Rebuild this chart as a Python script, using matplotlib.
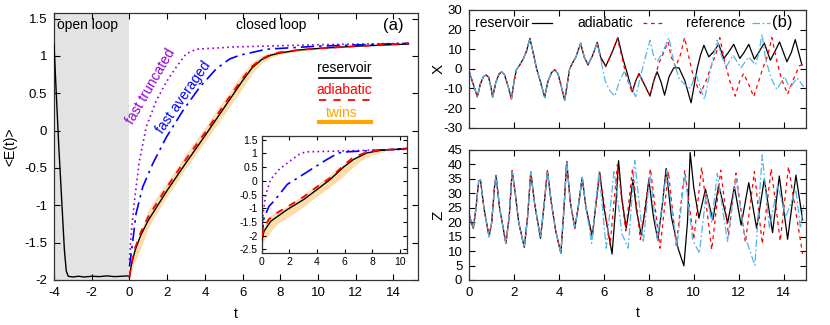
import numpy as np
import matplotlib.pyplot as plt
from matplotlib.ticker import FormatStrFormatter

plt.rcParams['font.family'] = ['Liberation Sans', 'DejaVu Sans']
plt.rcParams['axes.unicode_minus'] = False
plt.rcParams['font.size'] = 10

# ---------------- panel (a) data ----------------
# reservoir (open loop t<0, then closed loop)
t_res = [-4.0, -3.9, -3.75, -3.6, -3.45, -3.35, -3.25, -3.0, -2.7, -2.4, -2.0, -1.6,
         -1.2, -0.8, -0.4, -0.1, 0.0, 0.1, 0.3, 0.6, 1.0, 1.5, 2.0, 3.0, 4.0, 5.0,
         6.0, 6.5, 7.0, 7.5, 8.0, 9.0, 10.0, 12.0, 14.8]
E_res = [1.15, 0.6, -0.2, -0.9, -1.6, -1.88, -1.95, -1.96, -1.95, -1.96, -1.95, -1.955,
         -1.945, -1.955, -1.95, -1.945, -1.96, -1.8, -1.6, -1.4, -1.2, -1.0, -0.8, -0.43,
         -0.07, 0.3, 0.67, 0.84, 0.95, 1.01, 1.04, 1.08, 1.1, 1.13, 1.16]

t_adi = [0.0, 0.1, 0.3, 0.6, 1.0, 1.5, 2.0, 3.0, 4.0, 5.0, 6.0, 6.5, 7.0, 7.5, 8.0,
         9.0, 10.0, 12.0, 14.8]
E_adi = [-1.96, -1.78, -1.57, -1.36, -1.15, -0.95, -0.75, -0.38, -0.03, 0.34, 0.7,
         0.86, 0.96, 1.02, 1.05, 1.08, 1.1, 1.13, 1.17]

t_tw = [0.0, 0.25, 0.5, 1.0, 1.5, 2.0, 3.0, 4.0, 5.0, 6.0, 6.5, 7.0, 7.5, 8.0, 9.0, 10.0]
tw_lo = [-1.97, -1.78, -1.64, -1.3, -1.08, -0.88, -0.5, -0.15, 0.21, 0.57, 0.77, 0.9,
         0.98, 1.02, 1.07, 1.09]
tw_hi = [-1.92, -1.6, -1.42, -1.06, -0.87, -0.69, -0.31, 0.04, 0.41, 0.77, 0.92, 1.0,
         1.05, 1.07, 1.1, 1.11]

t_trunc = [0.0, 0.09, 0.27, 0.53, 0.89, 1.42, 1.95, 2.48, 3.01, 3.55, 5.5, 9.9, 14.8]
E_trunc = [-1.73, -1.38, -0.93, -0.4, 0.05, 0.4, 0.65, 0.85, 1.03, 1.09, 1.12, 1.15, 1.17]

t_avg = [0.0, 0.18, 0.35, 0.71, 1.24, 1.95, 2.84, 3.72, 4.61, 5.32, 5.85, 7.27, 9.93, 14.8]
E_avg = [-1.82, -1.47, -1.11, -0.75, -0.44, -0.09, 0.27, 0.58, 0.83, 0.96, 1.01, 1.09,
         1.13, 1.17]

# inset
ti_res = [0.0, 0.17, 0.65, 1.85, 3.05, 4.0, 4.96, 5.92, 6.64, 7.6, 8.56, 10.5]
Ei_res = [-2.2, -1.84, -1.48, -1.05, -0.68, -0.32, 0.05, 0.5, 0.78, 1.02, 1.11, 1.18]
ti_adi = [0.0, 0.2, 0.5, 1.0, 1.85, 3.0, 4.0, 5.0, 5.9, 6.6, 7.6, 8.5, 10.5]
Ei_adi = [-2.05, -1.7, -1.42, -1.2, -0.95, -0.6, -0.22, 0.12, 0.55, 0.85, 1.05, 1.12, 1.18]
ti_tw = [0.0, 0.2, 0.4, 0.8, 1.2, 1.85, 3.0, 4.0, 5.0, 5.9, 7.1, 8.0, 9.0]
twi_lo = [-2.35, -2.15, -2.05, -1.75, -1.55, -1.35, -0.95, -0.56, -0.2, 0.17, 0.72,
          0.95, 1.08]
twi_hi = [-2.0, -1.6, -1.35, -1.2, -1.08, -0.93, -0.5, -0.13, 0.25, 0.6, 0.95, 1.06, 1.12]
ti_trunc = [0.0, 0.1, 0.29, 0.65, 1.25, 1.97, 2.69, 3.17, 4.0, 10.5]
Ei_trunc = [-2.4, -1.2, -0.5, 0.05, 0.41, 0.7, 0.96, 1.06, 1.07, 1.15]
ti_avg = [0.0, 0.17, 0.53, 0.89, 1.37, 1.85, 2.81, 3.77, 4.72, 5.56, 6.16, 10.5]
Ei_avg = [-2.09, -1.35, -0.93, -0.74, -0.44, -0.13, 0.17, 0.48, 0.78, 1.02, 1.06, 1.18]

# ---------------- panel (b) data ----------------
tx_common = [0, 0.18, 0.36, 0.5, 0.62, 0.74, 0.86, 0.96, 1.04, 1.18, 1.32, 1.44, 1.56,
             1.72, 1.88, 2.0, 2.1, 2.25, 2.4, 2.55, 2.7, 2.85, 3.0, 3.18, 3.36, 3.5,
             3.67, 3.81, 3.95, 4.1, 4.25, 4.36, 4.47, 4.6, 4.75, 4.96, 5.12, 5.29,
             5.5, 5.7]
x_common = [-1.5, -8, -14.2, -7.5, -4.2, -3.1, -4.2, -9, -14.5, -7, -2.8, -1.5, -2.8,
            -8.5, -15.4, -6, -0.5, 2, 5, 9, 15.5, 8, 0, -7, -14.5, -6.5, -1.8, -0.5,
            -2.5, -9, -16, -8, 0, 3, 6, 13, 6, 2, 7, 13.5]

tx_res = [5.85, 6.08, 6.35, 6.62, 6.85, 7.04, 7.26, 7.42, 7.56, 7.8, 8.05, 8.22, 8.37,
          8.55, 8.7, 8.9, 9.11, 9.34, 9.6, 9.88, 10.15, 10.3, 10.45, 10.67, 10.9, 11.11,
          11.34, 11.55, 11.78, 12.05, 12.25, 12.45, 12.7, 12.9, 13.14, 13.41, 13.6,
          13.82, 14.15, 14.35, 14.52, 14.82]
x_res = [6, 1.4, 8, 15.9, 5, -2.4, -11.7, -6, -2.4, -8, -13.9, -6, -1.5, -7, -13.4, -4,
         0.5, 0.5, -6, -17.3, 0, 7, 12, 6.1, 9, 12.5, 5.3, 8.5, 12.5, 5.3, 8.5, 12.5,
         4.9, 8.5, 13.2, 4.4, 8.5, 13.7, 3.6, 8.5, 14.9, 1.9]

tx_adi = [5.85, 6.08, 6.3, 6.6, 6.8, 7.0, 7.26, 7.42, 7.56, 7.8, 8.05, 8.25, 8.45, 8.65,
          8.85, 9.0, 9.19, 9.4, 9.59, 9.8, 10.0, 10.3, 10.55, 10.8, 11.0, 11.16, 11.35,
          11.6, 11.85, 12.05, 12.22, 12.45, 12.67, 12.9, 13.1, 13.3, 13.48, 13.7, 13.9,
          14.18, 14.45, 14.7, 14.9]
x_adi = [5, 1, 7, 15.4, 6, -4, -12.2, -6, -3, -8, -13.4, -5, 3, 8, 13.7, 6, 1, 7, 15.9,
         5, -5, -12.5, -6, 2, 8, 15.9, 5, -6, -13.9, -6, -2.4, -8, -14.2, -6, 1, 7,
         15.9, 4, -5, -12.9, -5, 1.5, 2.5]

tx_ref = [5.85, 6.05, 6.25, 6.48, 6.7, 6.9, 7.15, 7.41, 7.6, 7.8, 8.05, 8.2, 8.37, 8.6,
          8.89, 9.1, 9.35, 9.6, 9.85, 10.1, 10.3, 10.48, 10.7, 10.85, 11.04, 11.25,
          11.45, 11.75, 12.1, 12.45, 12.75, 12.9, 13.04, 13.2, 13.45, 13.7, 14.05,
          14.27, 14.6, 14.9]
x_ref = [5, -6, -11, -13.9, -6, -1.5, -8, -14.2, -5, 4, 14.6, 7, 3.6, 8, 15.9, 4, -5,
         -8, -10, -2.4, -10, -15.6, -3, 5, 14.6, 6, 1, 7, 0.5, 6, 2, 8, 17.6, 5, -5,
         -10.5, -4, -10, -4.6, -9.2]

tz_common = [0, 0.18, 0.3, 0.42, 0.5, 0.65, 0.88, 1.0, 1.12, 1.19, 1.35, 1.63, 1.78,
             1.91, 2.05, 2.2, 2.45, 2.6, 2.74, 2.9, 3.17, 3.32, 3.48, 3.65, 3.85, 4.08,
             4.22, 4.34, 4.5, 4.7, 4.85, 5.03, 5.2]
z_common = [22.5, 17.9, 25, 34.3, 34.6, 25, 15, 20, 32, 36.2, 25, 12.7, 22, 37.8, 30,
            20, 11.3, 22, 37.5, 27, 14.4, 25, 37.8, 27, 17, 9.2, 25, 41, 27, 17.9, 25,
            35.5, 25]

tz_res = [5.48, 5.65, 5.81, 6.0, 6.36, 6.52, 6.65, 6.8, 6.99, 7.15, 7.29, 7.45, 7.66,
          7.85, 8.0, 8.2, 8.4, 8.6, 8.77, 9.0, 9.3, 9.56, 9.72, 9.84, 10.0, 10.23,
          10.52, 10.85, 11.11, 11.51, 11.81, 12.11, 12.45, 12.8, 13.14, 13.51, 13.81,
          14.18, 14.55, 14.85]
z_res = [15, 27, 37.3, 25, 9.0, 25, 41.3, 28, 17.9, 26, 34.8, 24, 15.6, 25, 34.8, 22,
         13.8, 26, 38.6, 22, 11, 4.9, 20, 44.1, 32, 21.4, 31.4, 20.8, 32.9, 19.8, 32.3,
         19, 33.7, 17.9, 34.8, 16.4, 36, 14.1, 36.3, 20.8]

tz_adi = [5.48, 5.81, 6.27, 6.6, 6.97, 7.27, 7.62, 8.07, 8.5, 8.87, 9.22, 9.6, 10.0,
          10.35, 10.8, 11.2, 11.55, 11.88, 12.3, 12.7, 13.05, 13.45, 13.85, 14.22, 14.85]
z_adi = [15, 37.3, 12, 40, 17, 38.5, 14, 38.5, 11, 37.5, 12, 38, 14, 39, 10.5, 38,
         15.5, 37, 13, 37.5, 12.5, 38.5, 13.5, 39.2, 9]

tz_ref = [5.45, 5.78, 6.1, 6.45, 6.8, 7.08, 7.37, 7.75, 8.05, 8.38, 8.8, 9.25, 9.6,
          9.95, 10.25, 10.55, 10.8, 11.05, 11.5, 11.88, 12.25, 12.72, 13.05, 13.37,
          13.74, 14.1, 14.55, 14.75, 14.9]
z_ref = [12.7, 37.5, 11, 38, 16, 11, 41.3, 13, 37, 14, 38, 11.5, 37, 14, 9.2, 30, 20,
         36.9, 13.3, 35.2, 16, 5, 43.3, 17.9, 32.9, 21.9, 31.2, 18, 26]

sky = '#56b4e9'
purple = '#9400d3'
band = '#fddcaa'


def style(ax, size=9.5, pad=5):
    ax.tick_params(direction='in', top=True, right=True, length=4, width=0.8,
                   labelsize=size, pad=pad)
    for s in ax.spines.values():
        s.set_linewidth(0.9)
        s.set_color('#333333')


fig = plt.figure(figsize=(8.3, 3.25), dpi=100)

# ---------- (a) ----------
ax = fig.add_axes([0.0651, 0.1385, 0.4385, 0.8215])
ax.axvspan(-4, 0, color='#e3e3e3', lw=0, zorder=0)
ax.fill_between(t_tw, tw_lo, tw_hi, color=band, lw=0, zorder=1)
ax.plot(t_trunc, E_trunc, color=purple, lw=1.2, ls=(0, (1, 2)), zorder=2)
ax.plot(t_avg, E_avg, color='blue', lw=1.2, ls=(0, (8, 3, 1.5, 3)), zorder=2)
ax.plot(t_res, E_res, color='k', lw=1.0, zorder=3)
ax.plot(t_adi, E_adi, color='red', lw=1.3, ls=(0, (4, 4)), zorder=4)
ax.set_xlim(-4, 15.3)
ax.set_ylim(-2, 1.575)
ax.set_xticks(np.arange(-4, 15, 2))
ax.set_yticks(np.arange(-2, 1.51, 0.5))
ax.yaxis.set_major_formatter(FormatStrFormatter('%g'))
style(ax)
ax.set_xlabel('t', fontsize=10)
ax.xaxis.set_label_coords(0.5, -0.1)
ax.set_ylabel('<E(t)>', fontsize=10)
ax.yaxis.set_label_coords(-0.1, 0.5)

ax.text(0.093, 0.955, 'open loop', transform=ax.transAxes, ha='center', va='center')
ax.text(0.598, 0.955, 'closed loop', transform=ax.transAxes, ha='center', va='center')
ax.text(0.932, 0.955, '(a)', transform=ax.transAxes, ha='center', va='center', fontsize=12)
ax.text(1.15, 0.59, 'fast truncated', color=purple, rotation=60, ha='center',
        va='center', rotation_mode='anchor')
ax.text(2.87, 0.45, 'fast averaged', color='blue', rotation=55, ha='center',
        va='center', rotation_mode='anchor')

# legend drawn gnuplot-like: label above the sample line
ax.text(0.797, 0.795, 'reservoir', transform=ax.transAxes, ha='center', va='center')
ax.plot([0.728, 0.871], [0.757, 0.757], transform=ax.transAxes, color='k', lw=1.2)
ax.text(0.797, 0.71, 'adiabatic', transform=ax.transAxes, ha='center', va='center',
        color='red')
ax.plot([0.728, 0.871], [0.674, 0.674], transform=ax.transAxes, color='red', lw=1.3,
        ls=(0, (4, 4)))
ax.text(0.79, 0.627, 'twins', transform=ax.transAxes, ha='center', va='center',
        color='orange')
ax.plot([0.728, 0.871], [0.59, 0.59], transform=ax.transAxes, color='orange', lw=3)

# inset
axi = fig.add_axes([0.3153, 0.2206, 0.1747, 0.3618])
axi.fill_between(ti_tw, twi_lo, twi_hi, color=band, lw=0, zorder=1)
axi.plot(ti_trunc, Ei_trunc, color=purple, lw=1.2, ls=(0, (1, 2)), zorder=2)
axi.plot(ti_avg, Ei_avg, color='blue', lw=1.2, ls=(0, (8, 3, 1.5, 3)), zorder=2)
axi.plot(ti_res, Ei_res, color='k', lw=1.0, zorder=3)
axi.plot(ti_adi, Ei_adi, color='red', lw=1.3, ls=(0, (4, 4)), zorder=4)
axi.set_xlim(0, 10.5)
axi.set_ylim(-2.65, 1.65)
axi.set_xticks(np.arange(0, 11, 2))
axi.set_yticks(np.arange(-2.5, 1.51, 0.5))
axi.yaxis.set_major_formatter(FormatStrFormatter('%g'))
style(axi, size=7.5, pad=3)
axi.tick_params(length=3)

# ---------- (b) X ----------
axx = fig.add_axes([0.5654, 0.6071, 0.4057, 0.3622])
axx.plot(tx_common + tx_res, x_common + x_res, color='k', lw=0.9)
axx.plot(tx_common + tx_adi, x_common + x_adi, color='red', lw=0.9, ls=(0, (3, 3)))
axx.plot(tx_common + tx_ref, x_common + x_ref, color=sky, lw=0.9,
         ls=(0, (6, 2, 1.5, 2)))
axx.set_xlim(0, 15)
axx.set_ylim(-30, 30)
axx.set_xticks(np.arange(0, 15, 2))
axx.set_xticklabels([])
axx.set_yticks(np.arange(-30, 31, 10))
style(axx)
axx.set_ylabel('X', fontsize=11)
axx.yaxis.set_label_coords(-0.07, 0.5)

ly = 0.89
axx.text(0.18, ly, 'reservoir', transform=axx.transAxes, ha='right', va='center')
axx.plot([0.186, 0.245], [ly, ly], transform=axx.transAxes, color='k', lw=0.9)
axx.text(0.487, ly, 'adiabatic', transform=axx.transAxes, ha='right', va='center')
axx.plot([0.515, 0.576], [ly, ly], transform=axx.transAxes, color='red', lw=0.9,
         ls=(0, (3, 3)))
axx.text(0.819, ly, 'reference', transform=axx.transAxes, ha='right', va='center')
axx.plot([0.839, 0.893], [ly, ly], transform=axx.transAxes, color=sky, lw=0.9,
         ls=(0, (6, 2, 1.5, 2)))
axx.text(0.93, ly, '(b)', transform=axx.transAxes, ha='center', va='center', fontsize=12)

# ---------- (b) Z ----------
axz = fig.add_axes([0.5654, 0.1385, 0.4057, 0.4])
axz.plot(tz_common + tz_res, z_common + z_res, color='k', lw=0.9)
axz.plot(tz_common + tz_adi, z_common + z_adi, color='red', lw=0.9, ls=(0, (3, 3)))
axz.plot(tz_common + tz_ref, z_common + z_ref, color=sky, lw=0.9,
         ls=(0, (6, 2, 1.5, 2)))
axz.set_xlim(0, 15)
axz.set_ylim(0, 45)
axz.set_xticks(np.arange(0, 15, 2))
axz.set_yticks(np.arange(0, 46, 5))
style(axz)
axz.set_ylabel('Z', fontsize=11)
axz.yaxis.set_label_coords(-0.07, 0.5)
axz.set_xlabel('t', fontsize=10)
axz.xaxis.set_label_coords(0.5, -0.2)

fig.savefig('out.png', dpi=100)
